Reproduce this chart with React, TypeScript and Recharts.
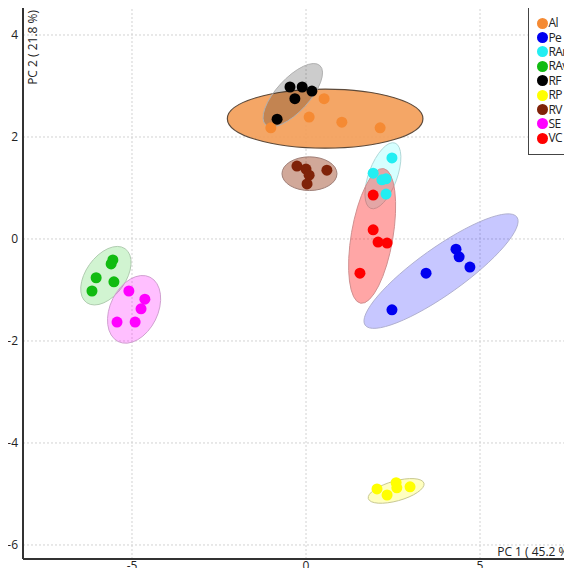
import React from "react"
import { CartesianGrid, Label, Legend, Scatter, ScatterChart, XAxis, YAxis } from "recharts"

const groups = ["Al", "Pe", "RAr", "RAv", "RF", "RP", "RV", "SE", "VC"]
const pointColors = ["#f58a33", "#0000f0", "#22eef2", "#11bb11", "#000000", "#ffff00", "#7f2208", "#ff00ff", "#ff0000"]
const ellipseFills = ["#f39c55", "#0000ff", "#00ffff", "#00c000", "#000000", "#ffff00", "#8b2500", "#ff00ff", "#ff0000"]
const ellipseOpacity = [0.9, 0.22, 0.16, 0.18, 0.2, 0.25, 0.4, 0.25, 0.35]
const ellipseStrokes = ["#5d4a3a", "#b0b0d0", "#b0d8d8", "#b0ccb0", "#b0b0b0", "#c8c890", "#a08078", "#d0a0d0", "#d09090"]

// scores
const alPoints = [
  { x: -1.01, y: 2.18 },
  { x: 0.09, y: 2.39 },
  { x: 0.52, y: 2.75 },
  { x: 1.03, y: 2.29 },
  { x: 2.13, y: 2.18 },
]
const pePoints = [
  { x: 4.31, y: -0.2 },
  { x: 4.4, y: -0.35 },
  { x: 4.71, y: -0.55 },
  { x: 3.45, y: -0.67 },
  { x: 2.47, y: -1.39 },
]
const rarPoints = [
  { x: 2.47, y: 1.59 },
  { x: 1.93, y: 1.29 },
  { x: 2.18, y: 1.16 },
  { x: 2.3, y: 1.18 },
  { x: 2.3, y: 0.88 },
]
const ravPoints = [
  { x: -5.55, y: -0.41 },
  { x: -5.6, y: -0.49 },
  { x: -6.03, y: -0.76 },
  { x: -5.52, y: -0.84 },
  { x: -6.15, y: -1.02 },
]
const rfPoints = [
  { x: -0.46, y: 2.98 },
  { x: -0.11, y: 2.98 },
  { x: 0.17, y: 2.9 },
  { x: -0.32, y: 2.75 },
  { x: -0.83, y: 2.35 },
]
const rpPoints = [
  { x: 2.04, y: -4.9 },
  { x: 2.33, y: -5.02 },
  { x: 2.59, y: -4.78 },
  { x: 2.61, y: -4.88 },
  { x: 2.99, y: -4.86 },
]
const rvPoints = [
  { x: -0.26, y: 1.43 },
  { x: 0.0, y: 1.37 },
  { x: 0.09, y: 1.25 },
  { x: 0.03, y: 1.08 },
  { x: 0.6, y: 1.35 },
]
const sePoints = [
  { x: -5.09, y: -1.02 },
  { x: -4.63, y: -1.18 },
  { x: -4.74, y: -1.37 },
  { x: -5.43, y: -1.63 },
  { x: -4.91, y: -1.63 },
]
const vcPoints = [
  { x: 1.93, y: 0.86 },
  { x: 1.93, y: 0.18 },
  { x: 2.07, y: -0.06 },
  { x: 2.33, y: -0.08 },
  { x: 1.55, y: -0.67 },
]

// confidence ellipses: centre, end of major axis, end of minor axis
const alEllipse = [{ x: 0.55, y: 2.36 }, { x: 3.36, y: 2.36 }, { x: 0.55, y: 1.78 }]
const peEllipse = [{ x: 3.88, y: -0.63 }, { x: 6.06, y: 0.43 }, { x: 4.27, y: -1.0 }]
const rarEllipse = [{ x: 2.21, y: 1.24 }, { x: 2.56, y: 1.88 }, { x: 2.59, y: 1.14 }]
const ravEllipse = [{ x: -5.75, y: -0.72 }, { x: -5.2, y: -0.19 }, { x: -5.28, y: -0.94 }]
const rfEllipse = [{ x: -0.38, y: 2.82 }, { x: 0.4, y: 3.4 }, { x: -0.03, y: 2.6 }]
const rpEllipse = [{ x: 2.59, y: -4.94 }, { x: 3.39, y: -4.79 }, { x: 2.66, y: -5.13 }]
const rvEllipse = [{ x: 0.1, y: 1.28 }, { x: 0.89, y: 1.28 }, { x: 0.1, y: 1.61 }]
const seEllipse = [{ x: -4.94, y: -1.38 }, { x: -4.48, y: -0.75 }, { x: -4.33, y: -1.59 }]
const vcEllipse = [{ x: 1.9, y: 0.06 }, { x: 2.23, y: 1.38 }, { x: 2.49, y: -0.01 }]

const points = [alPoints, pePoints, rarPoints, ravPoints, rfPoints, rpPoints, rvPoints, sePoints, vcPoints]
const ellipses = [alEllipse, peEllipse, rarEllipse, ravEllipse, rfEllipse, rpEllipse, rvEllipse, seEllipse, vcEllipse]

const xTicks = [-5, 0, 5]
const yTicks = [4, 2, 0, -2, -4, -6]

const font = "'Open Sans', 'Noto Sans', sans-serif"

const ellipseLine = (i: number) => (props: any) => {
  const pts = props.points || []
  if (pts.length < 3) return null
  const [c, a, b] = pts
  return (
    <circle
      cx={0}
      cy={0}
      r={1}
      transform={`matrix(${a.x - c.x} ${a.y - c.y} ${b.x - c.x} ${b.y - c.y} ${c.x} ${c.y})`}
      fill={ellipseFills[i]}
      fillOpacity={ellipseOpacity[i]}
      stroke={ellipseStrokes[i]}
      strokeWidth={i === 0 ? 1.2 : 1}
      vectorEffect="non-scaling-stroke"
    />
  )
}

const dot = (color: string) => (props: any) => <circle cx={props.cx} cy={props.cy} r={5.5} fill={color} />

const renderLegend = () => (
  <div
    style={{
      border: "1px solid #444",
      background: "#fff",
      height: 150,
      boxSizing: "border-box",
      paddingTop: 10,
      fontFamily: font,
      fontSize: 12,
      color: "#222",
    }}
  >
    {groups.map((g, i) => (
      <div key={g} style={{ display: "flex", alignItems: "center", height: 14.4, whiteSpace: "nowrap" }}>
        <span
          style={{
            display: "inline-block",
            flex: "none",
            width: 11,
            height: 11,
            borderRadius: "50%",
            background: pointColors[i],
            marginLeft: 7.5,
            marginRight: 1,
          }}
        />
        <span style={{ lineHeight: "14px", letterSpacing: -0.6 }}>{g}</span>
      </div>
    ))}
  </div>
)

export default function App() {
  return (
    <div style={{ position: "relative", width: 572, height: 576, overflow: "hidden", margin: -8, background: "#fff" }}>
      <ScatterChart width={600} height={576} margin={{ top: 5, right: 0, left: 0, bottom: 0 }}>
        <CartesianGrid stroke="#d2d2d2" strokeDasharray="2 2" />
        <XAxis
          type="number"
          dataKey="x"
          domain={[-8.132, 8.448]}
          ticks={xTicks}
          allowDataOverflow
          height={17}
          tickLine={false}
          tickSize={0}
          tickMargin={2}
          axisLine={{ stroke: "#333", strokeWidth: 2 }}
          tick={{ fill: "#222", fontSize: 12, fontFamily: font }}
        >
          <Label
            content={() => (
              <text x={572} y={556} textAnchor="end" fill="#222" fontSize={12} fontFamily={font}>
                PC 1 ( 45.2 %)
              </text>
            )}
          />
        </XAxis>
        <YAxis
          type="number"
          dataKey="y"
          domain={[-6.275, 4.588]}
          ticks={yTicks}
          allowDataOverflow
          width={23}
          tickLine={false}
          tickSize={3}
          axisLine={{ stroke: "#333", strokeWidth: 2 }}
          tick={{ fill: "#222", fontSize: 12, fontFamily: font }}
        >
          <Label
            content={() => (
              <text
                x={37}
                y={10}
                transform="rotate(-90 37 10)"
                textAnchor="end"
                fill="#222"
                fontSize={12}
                fontFamily={font}
              >
                PC 2 ( 21.8 %)
              </text>
            )}
          />
        </YAxis>
        {ellipses.map((e, i) => (
          <Scatter
            key={"e" + groups[i]}
            name={groups[i] + " ellipse"}
            data={e}
            line={ellipseLine(i)}
            lineType="joint"
            shape={() => <g />}
            legendType="none"
            isAnimationActive={false}
          />
        ))}
        {points.map((p, i) => (
          <Scatter
            key={groups[i]}
            name={groups[i]}
            data={p}
            fill={pointColors[i]}
            shape={dot(pointColors[i])}
            isAnimationActive={false}
          />
        ))}
        <Legend
          layout="vertical"
          align="center"
          verticalAlign="middle"
          wrapperStyle={{ top: 5, left: 528, width: 80, height: 150 }}
          content={renderLegend}
        />
      </ScatterChart>
    </div>
  )
}
